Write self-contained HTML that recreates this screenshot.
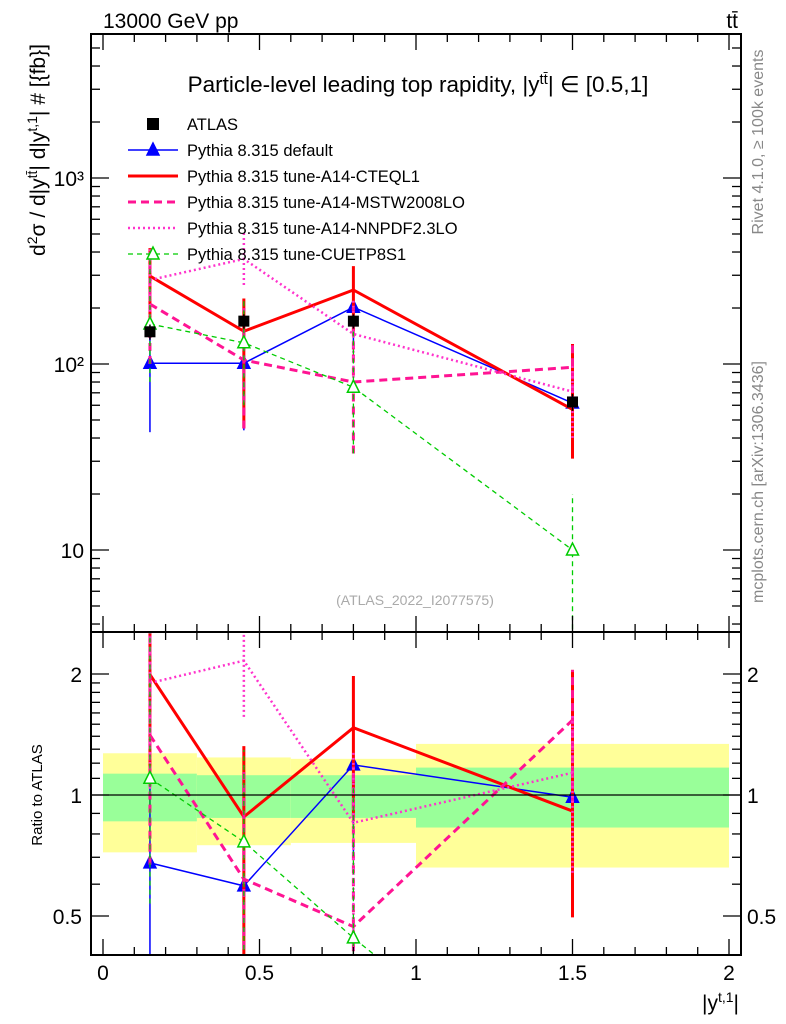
<!DOCTYPE html>
<html><head><meta charset="utf-8"><style>
html,body{margin:0;padding:0;background:#fff;overflow:hidden;width:786px;height:1024px}
svg{display:block;font-family:"Liberation Sans",sans-serif}
</style></head><body>
<svg id="c" width="786" height="1024" viewBox="0 0 786 1024">
<defs>
<clipPath id="cm"><rect x="91" y="34" width="650" height="598"/></clipPath>
<clipPath id="cr"><rect x="91" y="632" width="650" height="323"/></clipPath>
</defs>
<g id="bands" clip-path="url(#cr)"></g>
<g id="lines"></g>
<g id="axes"></g>
<text x="103" y="28" font-size="21">13000 GeV pp</text>
<text x="738" y="28" font-size="21" text-anchor="end">tt̄</text>
<text x="418" y="92" font-size="22.5" text-anchor="middle">Particle-level leading top rapidity, |y<tspan dy="-8" font-size="15">tt̄</tspan><tspan dy="8">| ∈ [0.5,1]</tspan></text>
<text x="415" y="605" font-size="14" fill="#aaa" text-anchor="middle">(ATLAS_2022_I2077575)</text>
<text transform="translate(763,142) rotate(-90)" font-size="16" fill="#888" text-anchor="middle">Rivet 4.1.0, ≥ 100k events</text>
<text transform="translate(763,482) rotate(-90)" font-size="16" fill="#888" text-anchor="middle">mcplots.cern.ch [arXiv:1306.3436]</text>
<text transform="translate(45,150) rotate(-90)" font-size="21" text-anchor="middle">d<tspan dy="-8" font-size="14">2</tspan><tspan dy="8">σ / d|y</tspan><tspan dy="-8" font-size="14">tt̄</tspan><tspan dy="8">| d|y</tspan><tspan dy="-8" font-size="14">t,1</tspan><tspan dy="8">| # [{fb}]</tspan></text>
<text transform="translate(42,795) rotate(-90)" font-size="15" text-anchor="middle">Ratio to ATLAS</text>
<text x="739" y="1010" font-size="21" text-anchor="end">|y<tspan dy="-8" font-size="14">t,1</tspan><tspan dy="8">|</tspan></text>
<g id="legend"></g>
</svg>
<script>
const xs = [0.15, 0.45, 0.8, 1.5];
const binLo = [0, 0.3, 0.6, 1];
const binHi = [0.3, 0.6, 1, 2];
const atlasVal = [149, 170, 170, 62.5];
const atlasLo = [135, 155, 155, 56];
const atlasHi = [163, 185, 185, 69];
const bandInLo = [0.86, 0.877, 0.877, 0.83];
const bandInHi = [1.13, 1.12, 1.12, 1.17];
const bandOutLo = [0.72, 0.75, 0.76, 0.66];
const bandOutHi = [1.27, 1.24, 1.23, 1.34];
const defVal = [101, 101, 202, 61.7];
const defLo = [43, 44, 120, 37];
const defHi = [180, 160, 320, 90];
const ctVal = [297, 150, 250, 57];
const ctLo = [170, 45, 150, 31];
const ctHi = [420, 225, 336, 128];
const msVal = [210, 105, 80, 96];
const msLo = [100, 45, 33, 60];
const msHi = [400, 200, 200, 128];
const nnVal = [283, 367, 145, 71];
const nnLo = [150, 266, 70, 40];
const nnHi = [420, 512, 220, 100];
const cuVal = [164, 130, 75, 10];
const cuLo = [80, 60, 33, 3];
const cuHi = [400, 220, 180, 20];
const mainTicks = ["10", "10²", "10³"];
const ratioTicks = ["0.5", "1", "2"];
const xTicks = ["0", "0.5", "1", "1.5", "2"];

const NS = "http://www.w3.org/2000/svg";
const X = v => 103 + v * 313;
const Y = v => 364 - (Math.log10(v) - 2) * 186;
const R = v => 795 - Math.log10(v) * 402;
function mk(tag, attrs, parent) {
  const e = document.createElementNS(NS, tag);
  for (const k in attrs) e.setAttribute(k, attrs[k]);
  parent.appendChild(e);
  return e;
}
const bands = document.getElementById('bands');
for (let i = 0; i < xs.length; i++) {
  const r1 = mk('rect', {x: X(binLo[i]), y: R(bandOutHi[i]), width: X(binHi[i]) - X(binLo[i]), height: R(bandOutLo[i]) - R(bandOutHi[i]), fill: '#ffff99'}, bands);
  
  
  const r2 = mk('rect', {x: X(binLo[i]), y: R(bandInHi[i]), width: X(binHi[i]) - X(binLo[i]), height: R(bandInLo[i]) - R(bandInHi[i]), fill: '#99ff99'}, bands);
  
  
}
const ax = document.getElementById('axes');
const one = mk('line', {x1: 91, x2: 741, y1: R(1), y2: R(1), stroke: '#000', 'stroke-width': 1.3}, ax);



const series = [
  {name: 'default', v: defVal, lo: defLo, hi: defHi, c: '#0000ff', w: 1.5, d: '', m: 'fill'},
  {name: 'cteql1', v: ctVal, lo: ctLo, hi: ctHi, c: '#ff0000', w: 3, d: '', m: ''},
  {name: 'mstw2008lo', v: msVal, lo: msLo, hi: msHi, c: '#ff1493', w: 3, d: '8,5', m: ''},
  {name: 'nnpdf23lo', v: nnVal, lo: nnLo, hi: nnHi, c: '#ff33cc', w: 2.5, d: '2,3', m: ''},
  {name: 'cuetp8s1', v: cuVal, lo: cuLo, hi: cuHi, c: '#00cc00', w: 1.3, d: '5,4', m: 'open'}
];
const lines = document.getElementById('lines');
function tri(g, x, y, s, kind) {
  const p = mk('polygon', {points: `${x},${y - 7} ${x - 6},${y + 5} ${x + 6},${y + 5}`, fill: kind === 'fill' ? s.c : '#fff', stroke: s.c, 'stroke-width': 1.5}, g);
  
  
}
series.forEach(s => {
  ['main', 'ratio'].forEach(panel => {
    const g = mk('g', {'clip-path': panel === 'main' ? 'url(#cm)' : 'url(#cr)'}, lines);
    
    
    const f = panel === 'main' ? (v, i) => Y(v) : (v, i) => R(v / atlasVal[i]);
    for (let i = 0; i < xs.length; i++) {
      const e = mk('line', {x1: X(xs[i]), x2: X(xs[i]), y1: f(s.lo[i], i), y2: f(s.hi[i], i), stroke: s.c, 'stroke-width': s.w, 'stroke-dasharray': s.d}, g);
      
      
    }
    const pts = xs.map((x, i) => X(x) + ',' + f(s.v[i], i)).join(' ');
    const pl = mk('polyline', {points: pts, fill: 'none', stroke: s.c, 'stroke-width': s.w, 'stroke-dasharray': s.d}, g);
    
    
    if (s.m) for (let i = 0; i < xs.length; i++) tri(g, X(xs[i]), f(s.v[i], i), s, s.m);
  });
});
{
  const g = mk('g', {'clip-path': 'url(#cm)'}, lines);
  
  
  for (let i = 0; i < xs.length; i++) {
    const e = mk('line', {x1: X(xs[i]), x2: X(xs[i]), y1: Y(atlasLo[i]), y2: Y(atlasHi[i]), stroke: '#000', 'stroke-width': 1.5}, g);
    
    
    const r = mk('rect', {x: X(xs[i]) - 5.5, y: Y(atlasVal[i]) - 5.5, width: 11, height: 11, fill: '#000'}, g);
    
    
  }
}
function frame(y0, y1, nm) {
  const r = mk('rect', {x: 91, y: y0, width: 650, height: y1 - y0, fill: 'none', stroke: '#000', 'stroke-width': 2}, ax);
  
  
  for (let v = 0; v <= 2.0001; v += 0.1) {
    const maj = Math.abs(v * 2 - Math.round(v * 2)) < 1e-6;
    const L = maj ? 16 : 8;
    mk('line', {x1: X(v), x2: X(v), y1: y1, y2: y1 - L, stroke: '#000', 'stroke-width': 1.3}, ax);
    mk('line', {x1: X(v), x2: X(v), y1: y0, y2: y0 + L, stroke: '#000', 'stroke-width': 1.3}, ax);
  }
}
frame(34, 632, 'main-panel-frame');
frame(632, 955, 'ratio-panel-frame');
function ytick(y, L) {
  mk('line', {x1: 91, x2: 91 + L, y1: y, y2: y, stroke: '#000', 'stroke-width': 1.3}, ax);
  mk('line', {x1: 741, x2: 741 - L, y1: y, y2: y, stroke: '#000', 'stroke-width': 1.3}, ax);
}
for (let d = 0; d <= 3; d++) for (let k = 1; k <= 9; k++) {
  const v = k * Math.pow(10, d);
  if (v < 3.7 || v > 5900) continue;
  ytick(Y(v), k === 1 ? 18 : 9);
}
[0.4, 0.5, 0.6, 0.7, 0.8, 0.9, 1, 1.1, 1.2, 1.3, 1.4, 1.5, 1.6, 1.7, 1.8, 1.9, 2].forEach(v => {
  ytick(R(v), (v === 0.5 || v === 1 || v === 2) ? 18 : 9);
});
const mainTickVals = [10, 100, 1000];
mainTicks.forEach((t, i) => {
  const e = mk('text', {x: 84, y: Y(mainTickVals[i]) + 8, 'font-size': 21, 'text-anchor': 'end'}, ax);
  e.textContent = t;
  
  
});
const ratioTickVals = [0.5, 1, 2];
ratioTicks.forEach((t, i) => {
  const e = mk('text', {x: 82, y: R(ratioTickVals[i]) + 8, 'font-size': 21, 'text-anchor': 'end'}, ax);
  e.textContent = t;
  
  
  const e2 = mk('text', {x: 747, y: R(ratioTickVals[i]) + 8, 'font-size': 21}, ax);
  e2.textContent = t;
  
  
});
xTicks.forEach((t, i) => {
  const e = mk('text', {x: X(i * 0.5), y: 980, 'font-size': 21, 'text-anchor': 'middle'}, ax);
  e.textContent = t;
  
  
});
const lg = document.getElementById('legend');


const labels = ['ATLAS', 'Pythia 8.315 default', 'Pythia 8.315 tune-A14-CTEQL1', 'Pythia 8.315 tune-A14-MSTW2008LO', 'Pythia 8.315 tune-A14-NNPDF2.3LO', 'Pythia 8.315 tune-CUETP8S1'];
labels.forEach((t, i) => {
  const y = 124 + i * 26;
  const g = mk('g', {}, lg);
  
  
  if (i === 0) mk('rect', {x: 147, y: y - 6, width: 12, height: 12, fill: '#000'}, g);
  else {
    const s = series[i - 1];
    mk('line', {x1: 128, x2: 178, y1: y, y2: y, stroke: s.c, 'stroke-width': s.w, 'stroke-dasharray': s.d}, g);
    if (s.m) tri(g, 153, y, s, s.m);
  }
  const e = mk('text', {x: 187, y: y + 6, 'font-size': 16.5}, g);
  e.textContent = t;
});
</script>
</body></html>
